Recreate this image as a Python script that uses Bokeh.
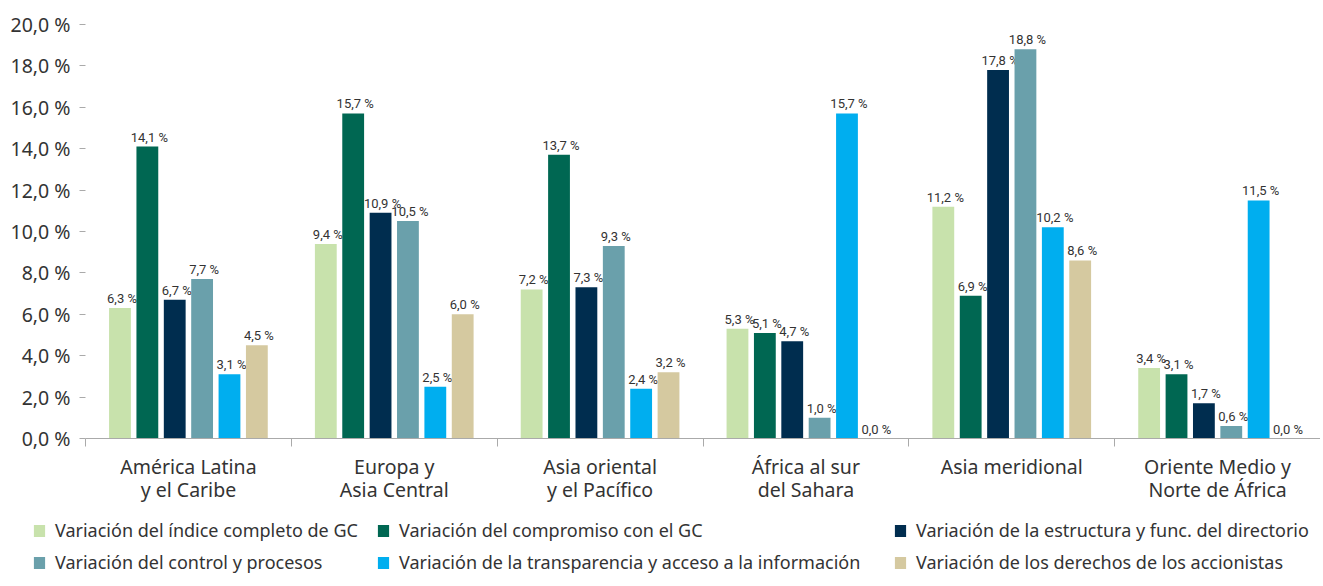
from bokeh.plotting import figure
from bokeh.models import ColumnDataSource, FixedTicker, Legend, LegendItem, Range1d
from bokeh.core.properties import value
from bokeh.embed import file_html
from bokeh.resources import INLINE

categories = ["América Latina\ny el Caribe", "Europa y\nAsia Central", "Asia oriental\ny el Pacífico",
              "África al sur\ndel Sahara", "Asia meridional", "Oriente Medio y\nNorte de África"]
series_names = ["Variación del índice completo de GC", "Variación del compromiso con el GC",
                "Variación de la estructura y func. del directorio", "Variación del control y procesos",
                "Variación de la transparencia y acceso a la información", "Variación de los derechos de los accionistas"]
indice = [6.3, 9.4, 7.2, 5.3, 11.2, 3.4]
compromiso = [14.1, 15.7, 13.7, 5.1, 6.9, 3.1]
directorio = [6.7, 10.9, 7.3, 4.7, 17.8, 1.7]
control = [7.7, 10.5, 9.3, 1.0, 18.8, 0.6]
transparencia = [3.1, 2.5, 2.4, 15.7, 10.2, 11.5]
derechos = [4.5, 6.0, 3.2, 0.0, 8.6, 0.0]
series = [indice, compromiso, directorio, control, transparencia, derechos]
colors = ["#c8e2ac", "#006752", "#002d4f", "#6aa0ab", "#00aeef", "#d5c9a0"]
y_ticks = [0, 2, 4, 6, 8, 10, 12, 14, 16, 18, 20]

FONT = "Noto Sans"
LBL_FONT = "Roboto"
TXT = "#333333"
W = 1320
LEFT = 85

p = figure(width=W, height=505, output_backend="svg", toolbar_location=None,
           x_range=Range1d(0, 6), y_range=Range1d(0, 20.48),
           min_border_left=LEFT, min_border_right=0, min_border_top=14, min_border_bottom=63)
p.outline_line_color = None
p.xgrid.visible = False
p.ygrid.visible = False

step = 0.133
width = 0.106
for j, (vals, col) in enumerate(zip(series, colors)):
    xs = [i + 0.5 + (j - 2.5) * step for i in range(len(categories))]
    labels = [("%.1f" % v).replace(".", ",") + " %" for v in vals]
    src = ColumnDataSource(dict(x=xs, top=vals, label=labels))
    p.vbar(x="x", top="top", width=width, bottom=0, source=src, fill_color=col, line_color=None)
    p.text(x="x", y="top", text="label", source=src, text_align="center", text_baseline="bottom",
           y_offset=-2, x_offset=2, text_font=value(LBL_FONT), text_font_size="13px", text_color=TXT)

# x axis
p.xaxis.ticker = FixedTicker(ticks=[i + 0.5 for i in range(6)], minor_ticks=list(range(7)))
p.xaxis.major_label_overrides = {i + 0.5: c for i, c in enumerate(categories)}
p.xaxis.major_tick_line_color = None
p.xaxis.minor_tick_line_color = "#aaaaaa"
p.xaxis.minor_tick_out = 8
p.xaxis.minor_tick_in = 0
p.xaxis.axis_line_color = "#aaaaaa"
p.xaxis.major_label_text_font = FONT
p.xaxis.major_label_text_font_size = "19.5px"
p.xaxis.major_label_text_line_height = 0.87
p.xaxis.major_label_text_color = TXT
p.xaxis.major_label_standoff = 6

# y axis
p.yaxis.ticker = FixedTicker(ticks=y_ticks)
p.yaxis.major_label_overrides = {t: ("%.1f" % t).replace(".", ",") + " %" for t in y_ticks}
p.yaxis.axis_line_color = None
p.yaxis.major_tick_line_color = "#aaaaaa"
p.yaxis.major_tick_out = 6
p.yaxis.major_tick_in = 0
p.yaxis.minor_tick_line_color = None
p.yaxis.major_label_text_font = FONT
p.yaxis.major_label_text_font_size = "19.5px"
p.yaxis.major_label_text_color = TXT
p.yaxis.major_label_standoff = 9

# legend figure: a separate root so its frame spans the full width
lf = figure(width=W, height=81, output_backend="svg", toolbar_location=None,
            x_range=Range1d(0, 1), y_range=Range1d(0, 1), x_axis_type=None, y_axis_type=None,
            min_border=0)
lf.outline_line_color = None
lf.xgrid.visible = False
lf.ygrid.visible = False
leg_renderers = []
for col in colors:
    # zero-size swatch renderer, used only for the legend glyph
    leg_renderers.append(lf.vbar(x=[0.5], top=[0], bottom=0, width=0, fill_color=col, line_color=None))

col_x = [32, 376, 893]
for c in range(3):
    items = [LegendItem(label=series_names[c], renderers=[leg_renderers[c]]),
             LegendItem(label=series_names[c + 3], renderers=[leg_renderers[c + 3]])]
    leg = Legend(items=items, location=(col_x[c], 12), orientation="vertical",
                 label_text_font=FONT, label_text_font_size="18px", label_text_color=TXT,
                 glyph_width=14, glyph_height=15, label_standoff=9, spacing=8,
                 padding=0, margin=0, border_line_color=None, background_fill_alpha=0)
    lf.add_layout(leg, "center")

open("out.html", "w").write(file_html([p, lf], INLINE))
